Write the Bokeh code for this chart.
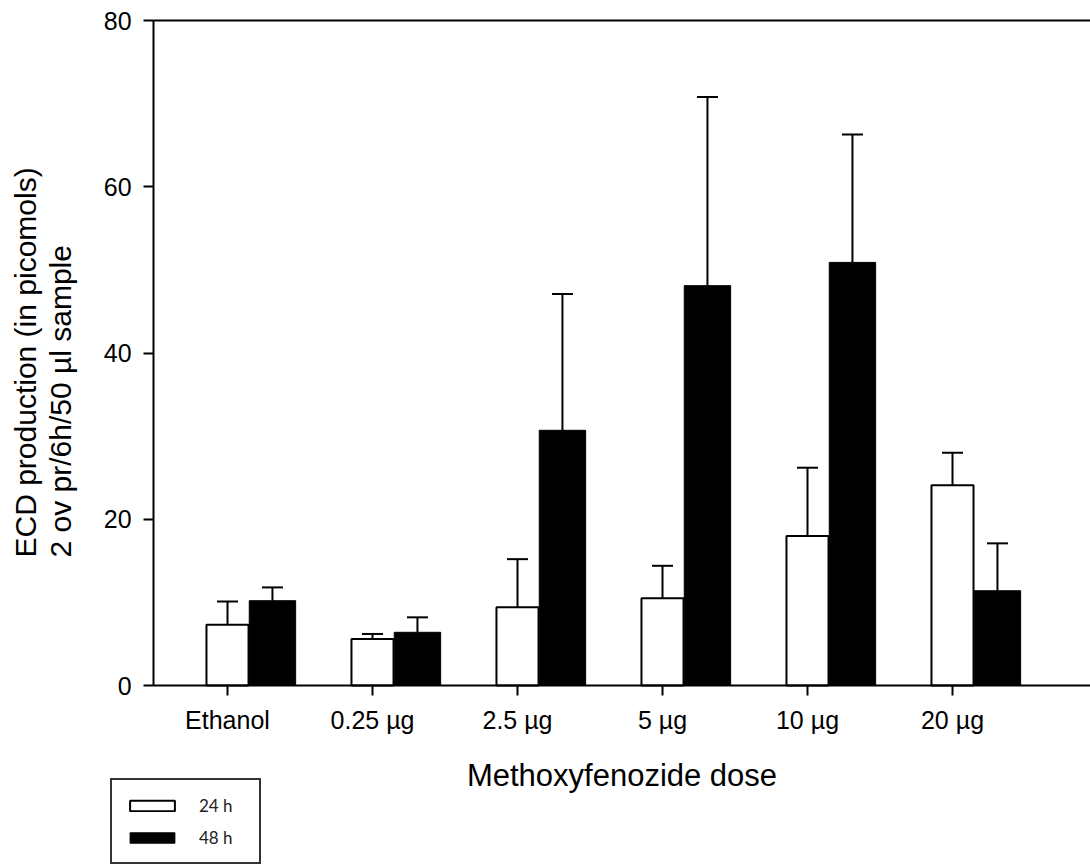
from bokeh.plotting import figure
from bokeh.models import (ColumnDataSource, Range1d, FixedTicker, Whisker, TeeHead,
                          Legend, LegendItem, Label, LinearAxis)
from bokeh.embed import file_html
from bokeh.resources import INLINE

# ---- data ----
categories = ["Ethanol", "0.25 µg", "2.5 µg", "5 µg", "10 µg", "20 µg"]
mean_24h = [7.3, 5.6, 9.4, 10.5, 18.0, 24.1]
err_24h = [2.8, 0.6, 5.8, 3.9, 8.2, 3.9]
mean_48h = [10.2, 6.4, 30.7, 48.1, 50.9, 11.4]
err_48h = [1.6, 1.8, 16.4, 22.7, 15.4, 5.7]
series_labels = ["24 h", "48 h"]
y_ticks = [0, 20, 40, 60, 80]

FONT = "Liberation Sans"
W, H = 1090, 864

pos = list(range(len(categories)))
src24 = ColumnDataSource(dict(
    x=pos, top=mean_24h,
    upper=[m + e for m, e in zip(mean_24h, err_24h)]))
src48 = ColumnDataSource(dict(
    x=[p + 0.31 for p in pos], top=mean_48h,
    upper=[m + e for m, e in zip(mean_48h, err_48h)]))

# frame covers the whole canvas; axes are pinned with fixed_location
x_left_axis = -0.51
x_right = (W - 227) / 145
p = figure(width=W, height=H, output_backend="svg", toolbar_location=None,
           x_range=Range1d(-227 / 145, x_right),
           y_range=Range1d(-(H - 685) / 8.3125, 80 + 20 / 8.3125),
           min_border=0, x_axis_type=None, y_axis_type=None)
p.outline_line_color = None
p.background_fill_color = "white"
p.border_fill_color = "white"

r24 = p.vbar(x="x", top="top", width=0.29, bottom=0, source=src24,
             fill_color="white", line_color="black", line_width=2)
r48 = p.vbar(x="x", top="top", width=0.32, bottom=0, source=src48,
             fill_color="black", line_color="black", line_width=1)

for src in (src24, src48):
    w = Whisker(base="x", upper="upper", lower="top", source=src,
                dimension="height", line_color="black", line_width=2,
                upper_head=TeeHead(size=21, line_color="black", line_width=2),
                lower_head=None, level="overlay")
    p.add_layout(w)


def style(ax):
    ax.axis_line_width = 2
    ax.axis_line_color = "black"
    ax.major_tick_line_width = 2
    ax.major_tick_line_color = "black"
    ax.major_tick_out = 10
    ax.major_tick_in = 0
    ax.minor_tick_line_color = None
    ax.major_label_text_font = FONT
    ax.major_label_text_font_size = "25px"
    ax.major_label_text_color = "black"


yaxis = LinearAxis(fixed_location=x_left_axis, bounds=(0, 80),
                   ticker=FixedTicker(ticks=y_ticks), major_label_standoff=12)
style(yaxis)
p.add_layout(yaxis, "left")

xaxis = LinearAxis(fixed_location=0, bounds=(x_left_axis, x_right),
                   ticker=FixedTicker(ticks=pos),
                   major_label_overrides={i: c for i, c in zip(pos, categories)},
                   major_label_standoff=10,
                   axis_label="Methoxyfenozide dose", axis_label_text_font=FONT,
                   axis_label_text_font_size="31px", axis_label_text_font_style="normal",
                   axis_label_text_color="black", axis_label_standoff=21)
style(xaxis)
p.add_layout(xaxis, "below")

# top frame line (an axis with no ticks)
top_axis = LinearAxis(fixed_location=80, bounds=(x_left_axis, x_right),
                      ticker=FixedTicker(ticks=[]),
                      major_tick_line_color=None, minor_tick_line_color=None,
                      axis_line_width=2, axis_line_color="black")
p.add_layout(top_axis, "above")

# y axis title (two lines, left-aligned at the bottom)
for txt, xs in (("ECD production (in picomols)", 25), ("2 ov pr/6h/50 µl sample", 60)):
    p.add_layout(Label(x=xs, y=H - 557, x_units="screen", y_units="screen",
                       angle=90, angle_units="deg", text=txt,
                       text_font=FONT, text_font_size="30px", text_color="black",
                       text_align="left", text_baseline="alphabetic"))

legend = Legend(items=[LegendItem(label=series_labels[0], renderers=[r24]),
                       LegendItem(label=series_labels[1], renderers=[r48])],
                location=(110, 0), orientation="vertical",
                padding=12, margin=0, spacing=6,
                glyph_width=56, glyph_height=13, label_height=26, label_width=48,
                label_standoff=19,
                label_text_font="Lato", label_text_font_size="17px",
                label_text_color="#222222",
                border_line_color="#333333", border_line_width=2,
                border_line_alpha=1,
                background_fill_color="white", background_fill_alpha=1)
p.add_layout(legend, "center")

open("out.html", "w").write(file_html(p, INLINE))
